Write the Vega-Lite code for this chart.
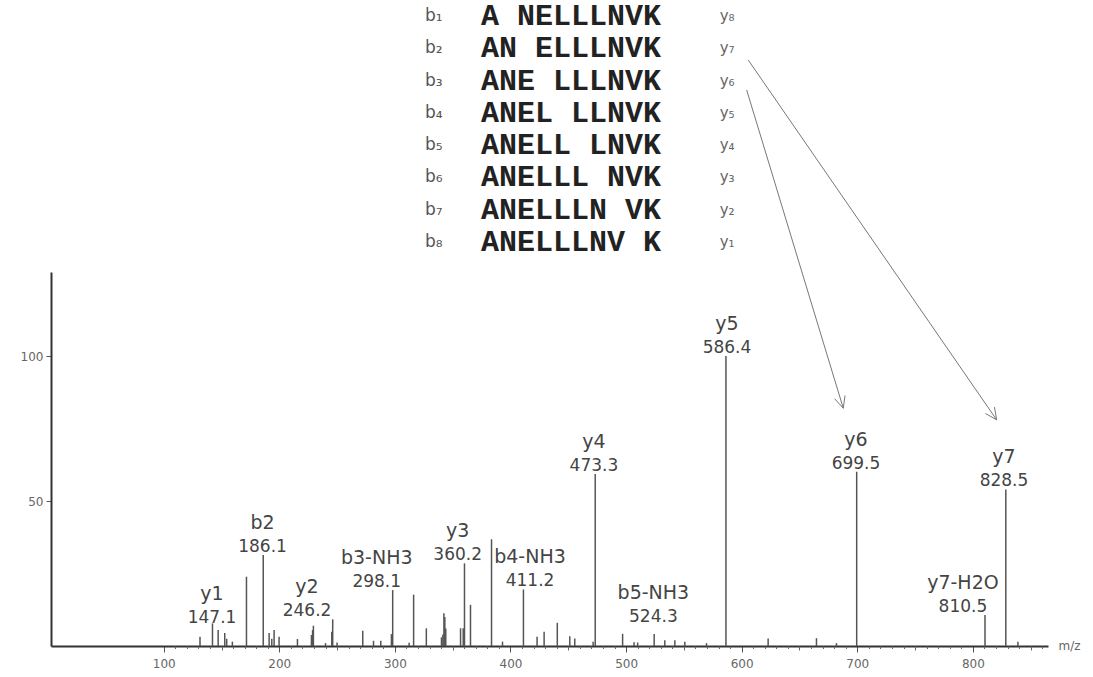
{
  "$schema": "https://vega.github.io/schema/vega-lite/v6.json",
  "width": 997,
  "height": 374,
  "autosize": {"type": "none"},
  "padding": {"left": 51, "top": 272, "right": 45, "bottom": 31},
  "background": "white",
  "config": {"view": {"stroke": null}, "font": "DejaVu Sans"},
  "datasets": {
    "peaks": [
      {"mz": 131.4, "intensity": 3.2}, {"mz": 142.2, "intensity": 7.8}, {"mz": 147.1, "intensity": 5.5},
      {"mz": 152.8, "intensity": 4.5}, {"mz": 154.5, "intensity": 2.5}, {"mz": 159.4, "intensity": 1.5},
      {"mz": 171.6, "intensity": 23.9}, {"mz": 186.1, "intensity": 31.4}, {"mz": 191.2, "intensity": 4.5},
      {"mz": 193.5, "intensity": 2.5}, {"mz": 195.5, "intensity": 5.5}, {"mz": 199.8, "intensity": 3.2},
      {"mz": 215.7, "intensity": 2.4}, {"mz": 227.8, "intensity": 3.8}, {"mz": 228.8, "intensity": 5.5},
      {"mz": 229.5, "intensity": 7.0}, {"mz": 240.0, "intensity": 1.0}, {"mz": 245.4, "intensity": 4.9},
      {"mz": 246.2, "intensity": 9.2}, {"mz": 250.0, "intensity": 1.2}, {"mz": 272.2, "intensity": 5.3},
      {"mz": 281.5, "intensity": 1.8}, {"mz": 287.8, "intensity": 1.8}, {"mz": 297.0, "intensity": 4.1},
      {"mz": 298.1, "intensity": 19.3}, {"mz": 312.3, "intensity": 1.1}, {"mz": 316.2, "intensity": 17.7},
      {"mz": 327.2, "intensity": 6.1}, {"mz": 340.3, "intensity": 3.0}, {"mz": 341.5, "intensity": 4.0},
      {"mz": 342.4, "intensity": 11.3}, {"mz": 343.2, "intensity": 10.0}, {"mz": 344.0, "intensity": 6.0},
      {"mz": 356.8, "intensity": 6.1}, {"mz": 359.1, "intensity": 6.1}, {"mz": 360.2, "intensity": 28.5},
      {"mz": 365.4, "intensity": 14.2}, {"mz": 383.6, "intensity": 36.8}, {"mz": 393.1, "intensity": 1.5},
      {"mz": 411.2, "intensity": 19.5}, {"mz": 423.0, "intensity": 3.2}, {"mz": 429.1, "intensity": 4.9},
      {"mz": 440.5, "intensity": 8.0}, {"mz": 451.3, "intensity": 3.4}, {"mz": 455.6, "intensity": 2.6},
      {"mz": 471.5, "intensity": 1.5}, {"mz": 473.3, "intensity": 59.3}, {"mz": 497.0, "intensity": 4.2},
      {"mz": 506.9, "intensity": 1.3}, {"mz": 510.0, "intensity": 1.2}, {"mz": 524.3, "intensity": 4.1},
      {"mz": 533.5, "intensity": 2.0}, {"mz": 542.2, "intensity": 2.0}, {"mz": 550.8, "intensity": 1.5},
      {"mz": 569.6, "intensity": 1.0}, {"mz": 586.4, "intensity": 100.0}, {"mz": 622.9, "intensity": 2.6},
      {"mz": 664.7, "intensity": 2.7}, {"mz": 682.0, "intensity": 1.0}, {"mz": 699.5, "intensity": 60.1},
      {"mz": 810.5, "intensity": 10.7}, {"mz": 828.5, "intensity": 54.0}, {"mz": 839.0, "intensity": 1.5}
    ],
    "labels": [
      {"ion": "y1", "value": "147.1", "lx": 141.8, "ly": 7.0},
      {"ion": "b2", "value": "186.1", "lx": 185.5, "ly": 31.4},
      {"ion": "y2", "value": "246.2", "lx": 224.0, "ly": 9.2},
      {"ion": "b3-NH3", "value": "298.1", "lx": 284.3, "ly": 19.3},
      {"ion": "y3", "value": "360.2", "lx": 354.3, "ly": 28.5},
      {"ion": "b4-NH3", "value": "411.2", "lx": 416.9, "ly": 19.5},
      {"ion": "y4", "value": "473.3", "lx": 472.2, "ly": 59.3},
      {"ion": "b5-NH3", "value": "524.3", "lx": 523.6, "ly": 7.3},
      {"ion": "y5", "value": "586.4", "lx": 587.3, "ly": 100.0},
      {"ion": "y6", "value": "699.5", "lx": 698.9, "ly": 60.1},
      {"ion": "y7-H2O", "value": "810.5", "lx": 791.4, "ly": 10.7},
      {"ion": "y7", "value": "828.5", "lx": 826.9, "ly": 54.0}
    ],
    "arrows": [
      {"path": "s1", "ord": 1, "mz": 605.7, "v": 202.1},
      {"path": "s1", "ord": 2, "mz": 820.6, "v": 78.0},
      {"path": "h1", "ord": 1, "mz": 818.7, "v": 82.4},
      {"path": "h1", "ord": 2, "mz": 820.6, "v": 78.0},
      {"path": "h1", "ord": 3, "mz": 810.9, "v": 80.2},
      {"path": "s2", "ord": 1, "mz": 604.3, "v": 191.8},
      {"path": "s2", "ord": 2, "mz": 687.9, "v": 82.0},
      {"path": "h2", "ord": 1, "mz": 689.4, "v": 86.4},
      {"path": "h2", "ord": 2, "mz": 687.9, "v": 82.0},
      {"path": "h2", "ord": 3, "mz": 680.4, "v": 85.3}
    ],
    "table": [
      {"row": 1, "b": "b₁", "seq": "A NELLLNVK", "y": "y₈"},
      {"row": 2, "b": "b₂", "seq": "AN ELLLNVK", "y": "y₇"},
      {"row": 3, "b": "b₃", "seq": "ANE LLLNVK", "y": "y₆"},
      {"row": 4, "b": "b₄", "seq": "ANEL LLNVK", "y": "y₅"},
      {"row": 5, "b": "b₅", "seq": "ANELL LNVK", "y": "y₄"},
      {"row": 6, "b": "b₆", "seq": "ANELLL NVK", "y": "y₃"},
      {"row": 7, "b": "b₇", "seq": "ANELLLN VK", "y": "y₂"},
      {"row": 8, "b": "b₈", "seq": "ANELLLNV K", "y": "y₁"}
    ]
  },
  "layer": [
    {
      "layer": [
        {
          "data": {"name": "peaks"},
          "mark": {"type": "rule", "color": "#555555", "strokeWidth": 1.5},
          "encoding": {
            "x": {
              "field": "mz", "type": "quantitative",
              "scale": {"domain": [2.5, 865], "nice": false, "zero": false},
              "axis": {
                "orient": "bottom",
                "values": [100, 200, 300, 400, 500, 600, 700, 800],
                "tickSize": 6,
                "tickColor": "#555555",
                "tickWidth": 1,
                "domainColor": "#333333",
                "domainWidth": 2,
                "labelColor": "#666666",
                "labelFontSize": 12,
                "labelPadding": 6,
                "labelFlush": false,
                "labelOverlap": false,
                "grid": false,
                "title": "m/z",
                "titleX": 1007,
                "titleY": -1,
                "titleAlign": "left",
                "titleBaseline": "middle",
                "titleAnchor": null,
                "titleFontWeight": "normal",
                "titleFontSize": 12,
                "titleColor": "#666666"
              }
            },
            "y": {
              "field": "intensity", "type": "quantitative",
              "scale": {"domain": [0, 129], "nice": false, "zero": false},
              "axis": {
                "values": [50, 100],
                "tickSize": 5,
                "tickColor": "#555555",
                "domainColor": "#333333",
                "domainWidth": 2,
                "labelColor": "#666666",
                "labelFontSize": 12,
                "labelPadding": 3,
                "grid": false,
                "title": null
              }
            },
            "y2": {"datum": 0}
          }
        },
        {
          "data": {"name": "labels"},
          "mark": {"type": "text", "fontSize": 17, "color": "#444444", "align": "center", "baseline": "alphabetic", "dy": -3},
          "encoding": {
            "x": {
              "field": "lx", "type": "quantitative",
              "scale": {"domain": [2.5, 865], "nice": false, "zero": false},
              "axis": {
                "orient": "bottom",
                "values": [110,120,130,140,150,160,170,180,190,210,220,230,240,250,260,270,280,290,310,320,330,340,350,360,370,380,390,410,420,430,440,450,460,470,480,490,510,520,530,540,550,560,570,580,590,610,620,630,640,650,660,670,680,690,710,720,730,740,750,760,770,780,790,810,820,830,840,850,860],
                "tickSize": {"condition": {"test": "datum.value % 50 === 0", "value": 4}, "value": 2.5},
                "tickColor": "#666666",
                "tickWidth": 1,
                "domain": false,
                "labels": false,
                "grid": false,
                "title": null
              }
            },
            "y": {"field": "ly", "type": "quantitative", "scale": {"domain": [0, 129], "nice": false, "zero": false}},
            "text": {"field": "value"}
          }
        },
        {
          "data": {"name": "labels"},
          "mark": {"type": "text", "fontSize": 19, "color": "#444444", "align": "center", "baseline": "alphabetic", "dy": -26},
          "encoding": {
            "x": {"field": "lx", "type": "quantitative", "scale": {"domain": [2.5, 865], "nice": false, "zero": false}, "axis": null},
            "y": {"field": "ly", "type": "quantitative", "scale": {"domain": [0, 129], "nice": false, "zero": false}},
            "text": {"field": "ion"}
          }
        },
        {
          "data": {"name": "arrows"},
          "mark": {"type": "line", "color": "#777777", "strokeWidth": 1},
          "encoding": {
            "x": {"field": "mz", "type": "quantitative", "scale": {"domain": [2.5, 865], "nice": false, "zero": false}, "axis": null},
            "y": {"field": "v", "type": "quantitative", "scale": {"domain": [0, 129], "nice": false, "zero": false}},
            "detail": {"field": "path"},
            "order": {"field": "ord"}
          }
        }
      ],
      "resolve": {"axis": {"x": "independent"}}
    },
    {
      "data": {"name": "table"},
      "encoding": {
        "y": {"field": "row", "type": "quantitative", "scale": {"domain": [1, 8], "range": [-256, -30], "nice": false, "zero": false}, "axis": null}
      },
      "layer": [
        {
          "mark": {"type": "text", "fontSize": 17, "color": "#555555", "align": "left", "baseline": "middle"},
          "encoding": {
            "x": {"datum": 326, "type": "quantitative", "scale": {"domain": [2.5, 865], "nice": false, "zero": false}, "axis": null},
            "text": {"field": "b"}
          }
        },
        {
          "mark": {"type": "text", "fontSize": 30, "font": "Liberation Mono", "fontWeight": "bold", "color": "#222222", "align": "left", "baseline": "middle"},
          "encoding": {
            "x": {"datum": 374.5, "type": "quantitative", "scale": {"domain": [2.5, 865], "nice": false, "zero": false}, "axis": null},
            "text": {"field": "seq"}
          }
        },
        {
          "mark": {"type": "text", "fontSize": 15, "color": "#666666", "align": "left", "baseline": "middle"},
          "encoding": {
            "x": {"datum": 581, "type": "quantitative", "scale": {"domain": [2.5, 865], "nice": false, "zero": false}, "axis": null},
            "text": {"field": "y"}
          }
        }
      ]
    }
  ],
  "resolve": {"scale": {"y": "independent"}}
}
